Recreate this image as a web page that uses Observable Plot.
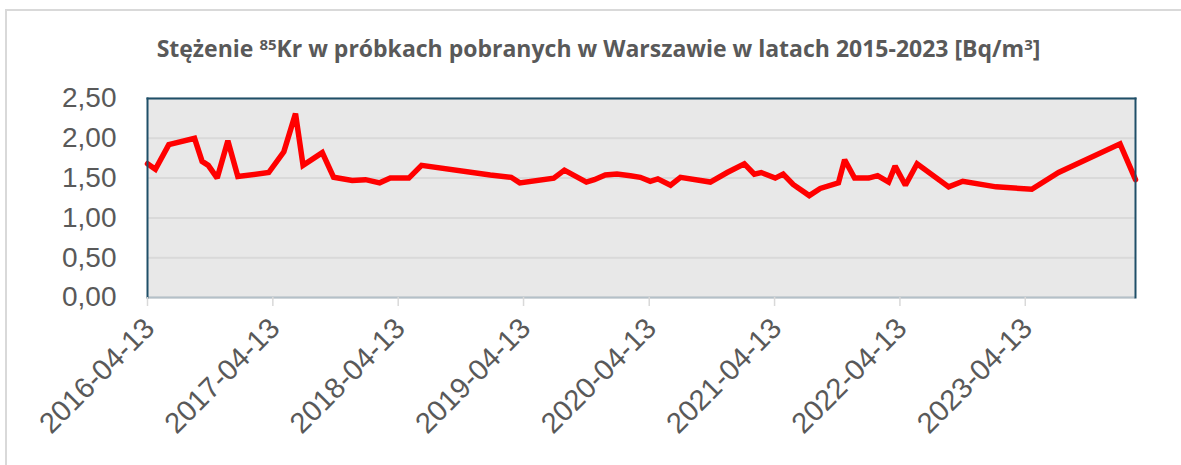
<!DOCTYPE html>
<html>
<head>
<meta charset="utf-8">
<script src="https://cdn.jsdelivr.net/npm/d3@7"></script>
<script src="https://cdn.jsdelivr.net/npm/@observablehq/plot@0.6"></script>
<style>
  html, body { margin: 0; padding: 0; background: #fff; }
  #wrap { position: relative; width: 1181px; height: 465px; overflow: hidden; }
  #border { position: absolute; left: 5px; top: 9px; width: 1300px; height: 600px; border: 2px solid #d9d9d9; box-sizing: border-box; }
  #title { position: absolute; left: 0; top: 0; width: 1181px; height: 80px; box-sizing: border-box; padding-top: 32px; padding-left: 16px; text-align: center; font-family: "Open Sans", sans-serif; font-weight: 700; font-size: 23px; color: #595959; white-space: nowrap; }
  #title sup { font-size: 0.65em; vertical-align: 0.5em; line-height: 0; }
  #chart { position: absolute; left: 0; top: 80px; }
</style>
</head>
<body>
<div id="wrap">
  <div id="border"></div>
  <div id="title">Stężenie <sup>85</sup>Kr w próbkach pobranych w Warszawie w latach 2015-2023 [Bq/m<sup>3</sup>]</div>
  <div id="chart"></div>
</div>
<script>
const dates = [
  "2016-04-13","2016-05-06","2016-06-14","2016-08-28","2016-09-19","2016-10-07","2016-11-02","2016-12-03",
  "2017-01-01","2017-04-01","2017-05-15","2017-06-18","2017-07-10","2017-09-04","2017-10-07","2017-11-30",
  "2018-01-08","2018-02-18","2018-03-21","2018-05-14","2018-06-20","2019-01-06","2019-03-08","2019-04-02",
  "2019-07-10","2019-08-10","2019-10-13","2019-11-05","2019-12-07","2020-01-10","2020-02-18","2020-03-18",
  "2020-04-16","2020-05-08","2020-06-14","2020-07-13","2020-10-08","2020-11-26","2021-01-15","2021-02-13",
  "2021-03-05","2021-04-15","2021-05-08","2021-06-06","2021-07-23","2021-08-24","2021-10-16","2021-11-03",
  "2021-12-02","2022-01-12","2022-02-07","2022-03-11","2022-03-30","2022-04-29","2022-06-02","2022-09-02",
  "2022-10-13","2023-01-18","2023-05-02","2023-07-19","2024-01-14","2024-02-28"
];
const values = [
  1.68,1.61,1.92,2.00,1.71,1.66,1.50,1.97,
  1.52,1.57,1.83,2.31,1.66,1.82,1.51,1.47,
  1.48,1.44,1.50,1.50,1.66,1.54,1.51,1.44,
  1.50,1.60,1.45,1.48,1.54,1.55,1.53,1.51,
  1.46,1.49,1.41,1.51,1.45,1.57,1.68,1.55,
  1.57,1.50,1.55,1.42,1.28,1.37,1.44,1.73,
  1.50,1.50,1.53,1.45,1.65,1.41,1.68,1.39,
  1.46,1.39,1.36,1.57,1.93,1.48
];
const xTicks = ["2016-04-13","2017-04-13","2018-04-13","2019-04-13","2020-04-13","2021-04-13","2022-04-13","2023-04-13"];
const yTicks = [0, 0.5, 1, 1.5, 2, 2.5];
const xStart = "2016-04-13";
const xEnd = "2024-02-28";

const parse = d3.utcParse("%Y-%m-%d");
const data = dates.map((d, i) => ({date: parse(d), value: values[i]}));
const tickDates = xTicks.map(parse);

const chart = Plot.plot({
  width: 1181,
  height: 385,
  marginTop: 18,
  marginBottom: 168,
  marginLeft: 147,
  marginRight: 46,
  style: {fontFamily: "'Liberation Sans', Arial, sans-serif", color: "#595959", background: "transparent"},
  x: {type: "utc", domain: [parse(xStart), parse(xEnd)], label: null},
  y: {domain: [0, 2.5], label: null},
  marks: [
    Plot.frame({fill: "#e8e8e8", stroke: null}),
    Plot.gridY(yTicks, {stroke: "#d9d9d9", strokeOpacity: 1, strokeWidth: 2}),
    Plot.ruleY([0], {stroke: "#b4c0c8", strokeWidth: 2}),
    Plot.line(data, {x: "date", y: "value", stroke: "#ff0000", strokeWidth: 5.5, strokeLinejoin: "miter", strokeMiterlimit: 2}),
    Plot.frame({stroke: "#1f4f68", strokeWidth: 2, anchor: "top"}),
    Plot.frame({stroke: "#1f4f68", strokeWidth: 2, anchor: "left"}),
    Plot.frame({stroke: "#1f4f68", strokeWidth: 2, anchor: "right"}),
    Plot.axisY(yTicks, {label: null, tickSize: 0, tickPadding: 31, fontSize: 28, tickFormat: d => d.toFixed(2).replace(".", ","), fill: "#595959"}),
    Plot.axisX(tickDates, {label: null, tickSize: 9, stroke: "#d9d9d9", strokeWidth: 1.5, tickFormat: () => ""}),
    Plot.axisX(tickDates, {label: null, tickSize: 0, tickRotate: -45, fontSize: 29, fill: "#595959", tickPadding: 4, dx: 2, dy: 22, tickFormat: d3.utcFormat("%Y-%m-%d")})
  ]
});
document.getElementById("chart").appendChild(chart);
</script>
</body>
</html>
